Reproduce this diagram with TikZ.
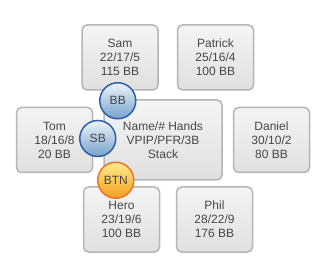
\documentclass[tikz,border=0pt]{standalone}
\usepackage{fontspec}
\setmainfont{Liberation Sans}
\usepackage{tikz}
\usetikzlibrary{positioning,calc}
\definecolor{seatline}{RGB}{181,181,181}
\definecolor{seattop}{RGB}{244,244,244}
\definecolor{seatbot}{RGB}{224,224,224}
\definecolor{txtgray}{RGB}{70,70,70}
\definecolor{blindline}{RGB}{46,95,163}
\definecolor{blindtop}{RGB}{236,243,250}
\definecolor{blindbot}{RGB}{118,162,204}
\definecolor{btnline}{RGB}{232,118,42}
\definecolor{btntop}{RGB}{255,236,140}
\definecolor{btnbot}{RGB}{245,158,30}

\begin{document}
\begin{tikzpicture}[x=1pt, y=-1pt,
  seat/.style={draw=seatline, line width=1.5pt, rounded corners=5pt,
               top color=seattop, bottom color=seatbot,
               minimum width=76pt, minimum height=65pt, inner sep=0pt,
               align=center, text=txtgray,
               font=\fontsize{12pt}{14pt}\selectfont},
  chip/.style={circle, line width=1.5pt, minimum size=36pt, inner sep=0pt,
               text=txtgray, font=\fontsize{12pt}{14pt}\selectfont},
  blind/.style={chip, draw=blindline, top color=blindtop, bottom color=blindbot},
  button/.style={chip, draw=btnline, top color=btntop, bottom color=btnbot}]
  \useasboundingbox (0,0) rectangle (330,270);
  % the table in the middle
  \node[seat, minimum width=118pt, minimum height=80pt] (table) at (163,140)
       {Name/\# Hands\\ VPIP/PFR/3B\\ Stack};
  % players round the table
  \node[seat] (sam) at (120,57.5) {Sam\\ 22/17/5\\ 115 BB};
  \node[seat] (patrick) at (215.5,57.5) {Patrick\\ 25/16/4\\ 100 BB};
  \node[seat] (tom) at (54.5,140) {Tom\\ 18/16/8\\ 20 BB};
  \node[seat] (daniel) at (271.5,140) {Daniel\\ 30/10/2\\ 80 BB};
  \node[seat] (hero) at (121.5,219.5) {Hero\\ 23/19/6\\ 100 BB};
  \node[seat] (phil) at (214.5,219.5) {Phil\\ 28/22/9\\ 176 BB};
  % positions
  \node[blind] (bb) at ($(table.north west)+(14.5,1.5)$) {BB};
  \node[blind] (sb) at ($(table.west)+(-5.5,-1.5)$) {SB};
  \node[button] (btn) at ($(table.south west)+(12.5,-0.5)$) {BTN};
\end{tikzpicture}
\end{document}
